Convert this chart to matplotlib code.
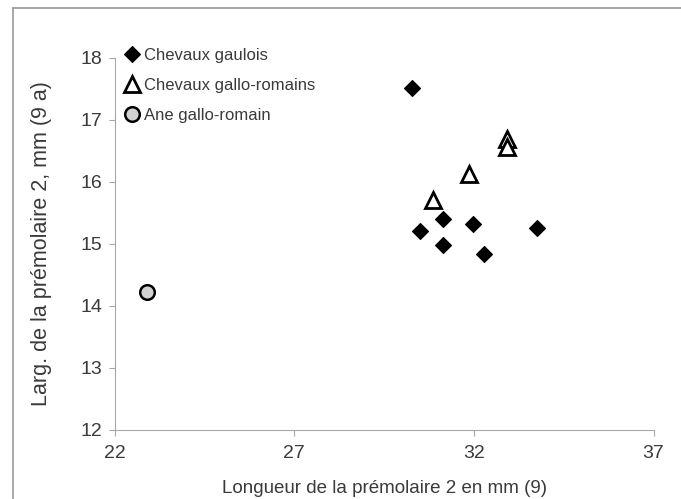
import matplotlib
matplotlib.use("Agg")
import matplotlib.pyplot as plt
from matplotlib.lines import Line2D

plt.rcParams['font.family'] = ['Liberation Sans', 'DejaVu Sans']

gaulois_x = [30.27, 31.13, 30.50, 31.99, 31.13, 32.28, 33.77]
gaulois_y = [17.51, 15.40, 15.21, 15.32, 14.98, 14.84, 15.26]
gr_x = [32.92, 32.92, 31.87, 30.86]
gr_y = [16.69, 16.56, 16.13, 15.71]
ane_x = [22.90]
ane_y = [14.22]

labels = ["Chevaux gaulois", "Chevaux gallo-romains", "Ane gallo-romain"]
xticks = [22, 27, 32, 37]
yticks = [12, 13, 14, 15, 16, 17, 18]

fig = plt.figure(figsize=(6.81, 4.99), dpi=100)
ax = fig.add_axes([114.5/681, 1-430/499, (653.5-114.5)/681, (430-58)/499])

tc = '#3a3a3a'
sc = '#a8a8a8'

ax.plot(gaulois_x, gaulois_y, linestyle='none', marker='D', ms=8, color='black',
        mec='black', mew=0.8, label=labels[0], zorder=3)
ax.plot(gr_x, gr_y, linestyle='none', marker='^', ms=11.5, mfc='white',
        mec='black', mew=2.0, label=labels[1], zorder=4)
ax.plot(ane_x, ane_y, linestyle='none', marker='o', ms=10.5, mfc='#d2d2d2',
        mec='black', mew=1.8, label=labels[2], zorder=3)

ax.set_xlim(22, 37)
ax.set_ylim(12, 18)
ax.set_xticks(xticks)
ax.set_yticks(yticks)
for s in ['top', 'right']:
    ax.spines[s].set_visible(False)
for s in ['left', 'bottom']:
    ax.spines[s].set_color(sc)
    ax.spines[s].set_linewidth(0.8)
ax.tick_params(axis='both', direction='out', length=4, width=0.8, color=sc,
               labelsize=14, labelcolor=tc)
ax.tick_params(axis='x', pad=7)
ax.tick_params(axis='y', pad=5)

ax.set_xlabel("Longueur de la prémolaire 2 en mm (9)", fontsize=13.5, color=tc, labelpad=13)
ax.set_ylabel("Larg. de la prémolaire 2, mm (9 a)", fontsize=15.5, color=tc, labelpad=20)

leg = ax.legend(loc='upper left', bbox_to_anchor=(0.017, 1.027), frameon=False,
                fontsize=12, handlelength=0.95, handletextpad=0.3, labelspacing=0.9,
                borderaxespad=0.0, borderpad=0.0)
for t in leg.get_texts():
    t.set_color(tc)

# outer frame of the chart area
fig.add_artist(Line2D([13/681, 13/681], [0, 1-8/499], transform=fig.transFigure,
                      color='#9a9a9a', lw=1.2))
fig.add_artist(Line2D([13/681, 1], [1-8/499, 1-8/499], transform=fig.transFigure,
                      color='#9a9a9a', lw=1.2))

fig.savefig("out.png", dpi=100)
